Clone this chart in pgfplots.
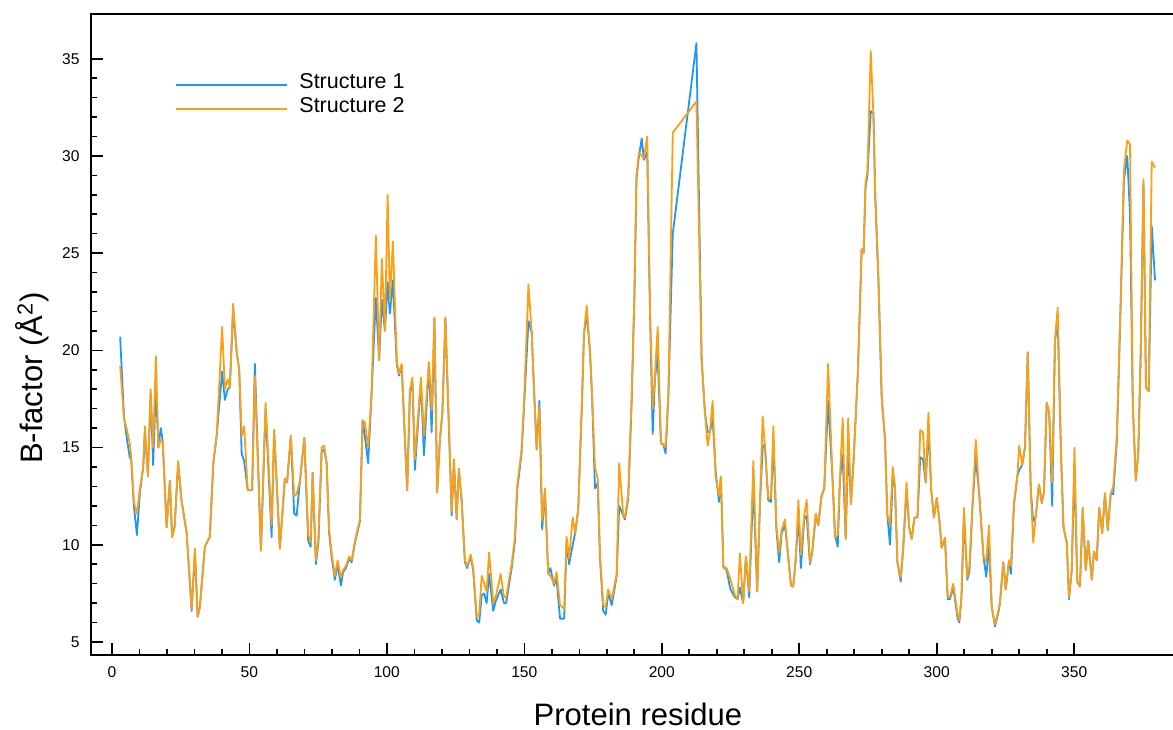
\documentclass[border=0pt]{standalone}
\usepackage{fontspec}
\setmainfont{Liberation Sans}
\usepackage{pgfplots}
\usepackage{pgfplotstable}
\pgfplotsset{compat=1.18}
\definecolor{sblue}{RGB}{29,150,245}
\definecolor{sorange}{RGB}{250,160,20}

\pgfplotstableread{
x s1 s2
3 20.7 19.2
4.4 16.6 16.5
5.5 15.4 15.9
6.5 14.5 15.2
7 14.4 14.6
8 12.0 12.2
9.1 10.5 11.6
10.2 12.7 12.9
11.4 14.0 14.0
12 15.8 16.1
13.1 13.6 13.5
14.1 17.8 18.0
15 14.1 15.0
16 18.2 19.7
16.9 15.0 15.0
17.8 16.0 15.4
18.5 15.3 15.3
19.9 10.9 10.9
21.1 13.3 13.3
21.9 10.4 10.4
22.8 10.9 10.9
24.1 14.2 14.3
25.3 12.3 12.3
27.2 10.6 10.6
29 6.6 6.7
30.2 9.6 9.8
31.2 6.3 6.3
32 6.8 6.8
33.8 9.9 9.9
35.6 10.4 10.4
36.9 14.2 14.2
38.1 15.6 15.6
40.1 18.9 21.2
41.1 17.45 18.0
42.1 18.0 18.5
42.9 18.1 18.1
44.1 22.1 22.4
45.4 19.9 19.9
46.3 19.0 19.0
47.2 14.7 15.6
48.1 14.3 16.1
49.4 12.8 12.8
51 12.8 12.8
52 19.3 18.7
54.2 9.7 9.7
55.9 17.0 17.3
58.1 10.4 11.0
59 15.9 15.9
61.1 9.8 9.8
62.9 13.4 13.4
63.7 13.2 13.2
65.1 15.6 15.6
66.3 11.6 12.5
67.2 11.5 12.6
68.4 13.3 13.3
70 15.5 15.5
71.4 10.2 10.5
72.3 9.9 10.1
73 13.7 13.7
74.2 9.0 9.2
75.1 10.1 10.3
76.3 14.8 15.0
77.2 14.9 15.1
78.1 14.2 14.2
79 10.6 10.8
79.9 9.4 9.6
81.1 8.2 8.4
82.1 9.0 9.2
83.3 7.9 8.3
84.1 8.6 8.7
85.1 8.8 8.9
86.3 9.3 9.4
87.2 9.1 9.2
88.4 10.1 10.2
90.2 11.2 11.3
91.2 16.4 16.4
92 15.6 16.3
93.2 14.2 15.0
94.4 17.6 17.6
96 22.7 25.9
97.2 19.5 19.5
98.2 22.6 24.7
99.3 21.0 21.0
100.3 23.5 28.0
101.1 21.9 22.5
102.2 23.6 25.6
103.6 19.3 19.5
104.4 18.7 18.8
105.4 19.2 19.3
107.4 12.8 12.8
108.4 17.8 18.0
109.3 18.4 18.6
110.2 13.85 14.4
112.4 18.4 18.6
113.5 14.6 15.6
115.3 19.3 19.4
116.3 15.8 16.9
117.3 21.6 21.7
118.3 12.7 12.7
119.3 15.4 15.4
120.2 16.8 16.8
121.3 21.6 21.7
123.6 11.5 11.7
124.4 14.3 14.4
125.4 11.3 11.3
126.2 13.9 13.9
127.2 12.3 12.3
128.4 9.1 9.2
129.2 8.8 8.9
130.5 9.4 9.5
131.4 8.7 8.8
132.7 6.1 6.3
133.6 6.0 6.4
134.5 7.4 8.4
135.4 7.5 8.0
136.3 7.0 7.6
137.2 8.5 9.6
138.7 6.6 7.0
139.6 7.1 7.3
141.4 7.7 8.5
142.6 7.0 7.3
143.4 7.0 7.3
145.4 8.8 9.0
146.6 10.2 10.4
147.4 12.8 13.0
149 14.7 14.9
149.9 17.1 17.3
151.5 21.5 23.4
152.7 20.9 20.9
153.5 18.1 18.1
154.5 14.9 14.9
155.5 17.4 17.1
156.5 10.8 11.2
157.5 12.7 12.9
158.7 8.5 8.5
159.5 8.8 8.4
160.8 7.9 8.0
161.7 8.3 8.6
163 6.2 6.9
164.5 6.2 6.7
165.4 10.2 10.4
166.3 9.0 9.3
167.6 10.0 11.4
168.5 10.6 10.6
169.6 11.8 11.8
170.9 17.0 17.1
171.7 20.8 20.9
172.7 21.9 22.3
173.9 19.9 19.9
174.7 17.4 17.5
175.7 12.9 14.0
176.7 13.2 13.4
177.5 9.4 9.5
178.7 6.6 6.9
179.6 6.4 6.8
180.5 7.5 7.7
181.8 6.9 7.2
183.6 8.4 8.5
184.5 12.0 14.2
186 11.5 11.5
186.6 11.3 11.4
187.8 12.4 12.6
189 17.2 17.4
190 22.5 22.6
190.8 28.8 29.0
191.7 30.0 30.2
192.7 30.9 30.0
193.5 29.8 29.9
194.7 30.2 31.0
195.7 22.0 22.2
196.7 15.7 17.0
197.5 18.5 18.6
198.5 19.8 21.2
199.7 15.2 15.2
200.5 15.2 15.2
201.4 14.7 15.0
202.4 17.7 17.7
204 26.0 31.2
212.6 35.8 32.8
214.5 19.5 19.5
215.7 16.8 16.8
216.7 15.8 15.1
217.5 15.8 15.8
218.5 16.5 17.4
219.6 13.75 13.5
220.8 12.2 12.5
221.5 13.5 13.5
222.4 8.9 8.8
223.6 8.7 8.8
224.8 7.8 8.3
225.4 7.6 8.0
226.6 7.3 7.4
227.6 7.2 7.2
228.4 7.8 9.55
229.6 7.0 7.0
230.6 9.4 9.4
231.8 7.3 7.6
233.3 13.1 14.3
234.7 7.6 7.6
235.7 12.1 12.1
236.7 15.0 16.6
237.5 15.2 15.0
238.7 12.3 12.4
239.7 12.2 12.4
240.6 15.3 16.1
241.7 10.75 10.9
242.7 9.1 9.6
243.6 10.6 10.75
244.8 11.0 11.3
245.7 9.8 9.8
247 7.9 7.9
247.8 7.85 7.85
248.7 9.2 9.2
249.7 11.5 12.3
250.6 8.8 9.5
251.8 11.3 11.5
252.7 11.5 12.3
253.9 9.0 9.1
254.7 9.6 9.6
256 11.5 11.6
256.9 11.0 11.0
258.1 12.5 12.5
259.1 12.9 12.9
260.5 17.4 19.3
262.1 13.4 13.4
263 10.5 10.4
264 9.9 10.5
264.8 13.4 13.4
265.8 14.6 16.5
266.9 10.3 10.3
267.8 15.2 16.5
268.8 12.1 12.1
269.7 14.2 14.2
271.3 18.8 18.8
272.7 25.2 25.2
273.4 25.0 25.0
274.1 28.4 28.6
274.8 29.0 29.2
276 32.3 35.4
277 32.2 32.0
277.6 28.0 28.2
278.8 23.6 23.7
280 17.5 17.55
281.2 15.4 15.4
282 11.6 11.6
283 10.0 11.0
284 13.4 14.0
284.8 13.0 13.0
285.7 9.1 9.1
286.9 8.1 8.3
287.8 9.8 9.85
289 12.8 13.2
290 10.9 10.9
290.9 10.3 10.3
291.9 11.4 11.4
293 11.4 11.4
294 14.5 15.9
295 14.4 15.8
296 13.2 13.2
297 16.0 16.8
298 12.8 12.8
299 11.4 11.4
300 12.4 12.4
301 11.2 11.2
301.8 9.85 9.85
303 10.35 10.35
304 7.2 7.3
304.8 7.2 7.3
306 7.8 8.0
307.6 6.2 6.4
308.2 6.0 6.1
309 7.3 7.3
309.9 11.5 11.9
311.1 8.2 8.3
311.9 8.6 8.9
313 12.0 12.0
314.2 14.5 15.4
315.5 12.5 12.5
317 9.4 9.4
318 8.35 9.1
319 10.0 11.0
320 6.8 6.8
321.2 5.8 5.9
322.4 6.5 6.6
323 7.0 7.0
324.2 9.1 9.1
325.1 7.7 7.7
326.3 9.2 9.2
327 8.5 8.9
328.1 12.1 12.1
329.3 13.5 13.5
330 13.85 15.1
331.1 14.1 14.1
332.1 15.0 15.05
333.1 19.9 19.9
334.2 12.8 12.8
335.1 11.2 10.1
336 11.45 11.45
337.2 13.1 13.1
338.2 12.15 12.15
339 12.7 12.7
340 17.3 17.3
340.9 16.8 16.8
342 12.0 13.2
343 20.5 20.5
344 21.5 22.2
345.2 14.7 14.7
346.1 10.9 10.9
347.3 10.1 10.1
348.1 7.2 7.3
349.1 8.7 8.7
350.1 14.0 15.0
351.1 8.1 8.1
352.1 7.85 7.85
353.1 11.9 11.9
354.2 8.7 8.7
355.1 10.2 10.2
356.4 8.2 8.2
357.2 9.65 9.65
358.2 9.2 9.2
359.1 11.9 11.9
360.2 10.6 10.6
361.2 12.65 12.65
362.2 10.75 10.75
363.3 12.65 12.65
364.2 12.6 13.0
365.5 15.3 15.6
366.9 22.4 22.4
368.1 28.8 29.3
369.3 30.0 30.8
370.3 27.0 30.6
371.3 17.3 17.3
372.4 13.3 13.3
373.3 14.7 14.7
374.2 19.9 19.9
375.2 28.6 28.8
376.1 18.1 18.1
377.1 17.9 17.9
378.2 26.4 29.7
379.4 23.6 29.4
}\bdata

\begin{document}
\begin{tikzpicture}
\begin{axis}[
  scale only axis,
  width=547pt, height=320.5pt,
  xmin=-7.6, xmax=390.3, ymin=4.33, ymax=37.3,
  axis line style={line width=1pt},
  tick align=inside,
  tick pos=left,
  xtick={0,50,...,350}, ytick={5,10,...,35},
  minor x tick num=4, minor y tick num=4,
  major tick length=6pt, minor tick length=3pt,
  every tick/.style={line width=0.8pt, black},
  /pgf/number format/assume math mode=true,
  ticklabel style={font=\fontsize{7.8}{9}\selectfont},
  yticklabel style={inner sep=0pt, xshift=-5.5pt},
  xticklabel style={inner sep=0pt, yshift=-5.5pt},
  xlabel={Protein residue},
  ylabel={B-factor (Å\textsuperscript{2})},
  xlabel style={at={(axis description cs:0.5,-0.1092)}, anchor=base, font=\fontsize{15.5}{18}\selectfont, inner sep=0pt},
  ylabel style={at={(axis description cs:-0.0439,0.432)}, anchor=base, font=\fontsize{15.5}{18}\selectfont, inner sep=0pt},
  legend style={at={(rel axis cs:0.0768,0.9084)}, anchor=north west, draw=none, fill=none, inner sep=0pt,
    font=\fontsize{10.75}{13}\selectfont, row sep=4.2pt,
    nodes={inner sep=0pt, text height=7.8pt, text depth=0pt},
    /tikz/every odd column/.append style={column sep=5.5pt}},
  legend cell align=left,
  legend image code/.code={\draw[#1, line width=1pt] (0pt,-2pt) -- (55.5pt,-2pt);},
]
\addplot[sblue, line width=0.9pt, line join=round] table[x=x, y=s1] {\bdata};
\addlegendentry{Structure 1}
\addplot[sorange, line width=0.9pt, line join=round] table[x=x, y=s2] {\bdata};
\addlegendentry{Structure 2}
\end{axis}
\pgfresetboundingbox
\path[use as bounding box] (-45.5pt,-37pt) rectangle (541pt,327.5pt);
\end{tikzpicture}
\end{document}
